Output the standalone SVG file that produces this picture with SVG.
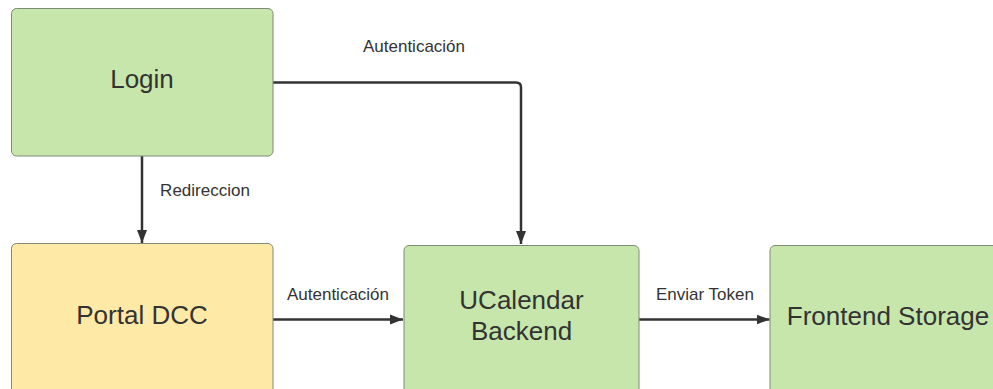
<svg xmlns="http://www.w3.org/2000/svg" width="993" height="389" viewBox="0 0 993 389">
  <style>
    .box { stroke: #7f8a78; stroke-width: 1; }
    .green { fill: #c7e6ac; }
    .yellow { fill: #ffe9a6; }
    .title { font-family: "Liberation Sans", Arial, sans-serif; font-size: 26px; fill: #333333; text-anchor: middle; }
    .label { font-family: "Liberation Sans", Arial, sans-serif; font-size: 17px; fill: #333333; text-anchor: middle; }
    .edge { fill: none; stroke: #333333; stroke-width: 2.5; }
  </style>
  <defs>
    <marker id="arrow" markerWidth="14" markerHeight="12" refX="13" refY="6" orient="auto" markerUnits="userSpaceOnUse">
      <path d="M0,1 L13,6 L0,11 Z" fill="#333333"/>
    </marker>
  </defs>
  <rect width="993" height="389" fill="#ffffff"/>

  <g id="connectors">
    <path class="edge" d="M273,82.5 H516 Q521,82.5 521,87.5 V244" marker-end="url(#arrow)"/>
    <path class="edge" d="M142,156 V243" marker-end="url(#arrow)"/>
    <path class="edge" d="M273,319.5 H403" marker-end="url(#arrow)"/>
    <path class="edge" d="M639,319.5 H769.5" marker-end="url(#arrow)"/>
    <text class="label" x="414" y="52">Autenticación</text>
    <text class="label" x="205" y="196">Redireccion</text>
    <text class="label" x="338" y="300">Autenticación</text>
    <text class="label" x="705" y="300">Enviar Token</text>
  </g>

  <g id="login">
    <rect class="box green" x="11.5" y="8.5" width="261.5" height="147.5" rx="5"/>
    <text class="title" x="142" y="88">Login</text>
  </g>

  <g id="portal-dcc">
    <rect class="box yellow" x="11.5" y="243.5" width="261.5" height="160" rx="5"/>
    <text class="title" x="142" y="324">Portal DCC</text>
  </g>

  <g id="ucalendar-backend">
    <rect class="box green" x="404" y="245.5" width="235" height="160" rx="5"/>
    <text class="title" x="521.5" y="309">UCalendar</text>
    <text class="title" x="521.5" y="340">Backend</text>
  </g>

  <g id="frontend-storage">
    <rect class="box green" x="770" y="245.5" width="235" height="160" rx="5"/>
    <text class="title" x="888" y="325">Frontend Storage</text>
  </g>
</svg>
